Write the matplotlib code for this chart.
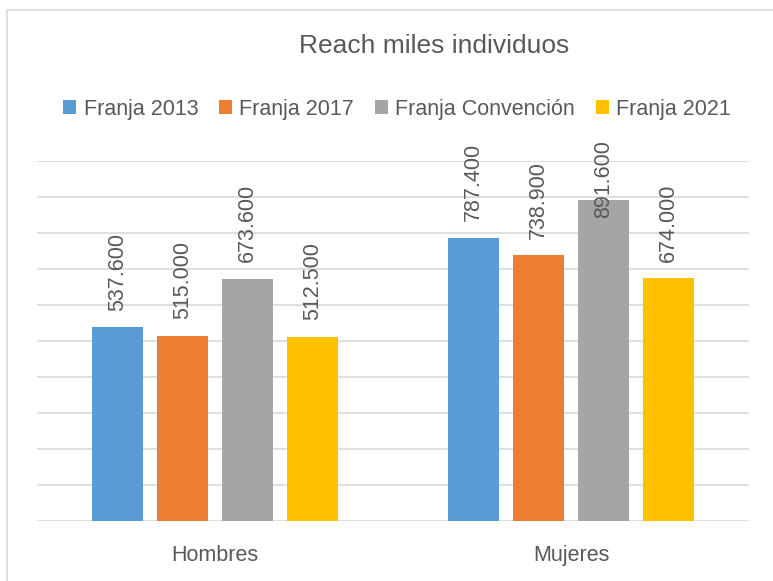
import numpy as np
import matplotlib.pyplot as plt
from matplotlib.patches import Rectangle

plt.switch_backend('Agg')
plt.rcParams['font.family'] = ['Liberation Sans', 'DejaVu Sans']

# data
categories = ['Hombres', 'Mujeres']
series = ['Franja 2013', 'Franja 2017', 'Franja Convención', 'Franja 2021']
values = {
    'Franja 2013': [537.6, 787.4],
    'Franja 2017': [515.0, 738.9],
    'Franja Convención': [673.6, 891.6],
    'Franja 2021': [512.5, 674.0],
}
colors = ['#5B9BD5', '#ED7D31', '#A5A5A5', '#FFC000']
text_color = '#595959'

fig = plt.figure(figsize=[7.73, 5.81], dpi=100)

# chart area border (cropped on right / bottom)
fig.patches.append(Rectangle((7 / 773, -0.1), 1.2, 1 - 10 / 581 + 0.1,
                             transform=fig.transFigure, fill=False,
                             edgecolor='#D9D9D9', lw=1.2))

ax = fig.add_axes([37 / 773, 1 - 521 / 581, 712 / 773, 360 / 581])

x = np.arange(len(categories))
width = 0.143
step = 0.182
for i, name in enumerate(series):
    pos = x + (i - 1.5) * step
    ax.bar(pos, values[name], width, color=colors[i], label=name, zorder=3)
    for px, v in zip(pos, values[name]):
        ax.text(px, min(v + 45, 842), '{0:.3f}'.format(v),
                rotation=90, ha='center', va='bottom',
                fontsize=15.5, color=text_color, zorder=4)

ax.set_xlim(-0.5, 1.5)
ax.set_ylim(0, 1000)
ax.set_yticks(np.arange(0, 1001, 100))
ax.yaxis.grid(True, color='#D9D9D9', lw=1.2)
ax.set_axisbelow(True)
ax.set_yticklabels([])
ax.set_xticks(x)
ax.set_xticklabels(categories, fontsize=15.5, color=text_color)
ax.tick_params(axis='both', length=0)
ax.tick_params(axis='x', pad=17)
for sp in ax.spines.values():
    sp.set_visible(False)

fig.text(434 / 773, 1 - 46 / 581, 'Reach miles individuos', ha='center',
         va='center', fontsize=19, color=text_color)

fig.legend(loc='center', bbox_to_anchor=(397 / 773, 1 - 109 / 581), ncol=4,
           frameon=False, fontsize=15.5, handlelength=0.62, handleheight=0.62,
           handletextpad=0.34, columnspacing=0.95, labelcolor=text_color)

plt.savefig('out.png', dpi=100)
plt.close()
